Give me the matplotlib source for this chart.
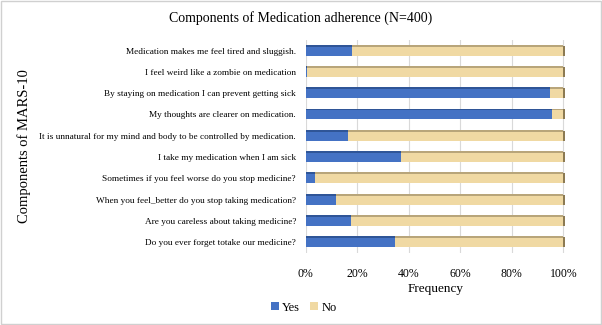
import matplotlib
matplotlib.use("Agg")
import matplotlib.pyplot as plt
from matplotlib.ticker import PercentFormatter
import numpy as np

categories = [
    "Do you ever forget totake our medicine?",
    "Are you careless about taking medicine?",
    "When you feel_better do you stop taking medication?",
    "Sometimes if you feel worse do you stop medicine?",
    "I take my medication when I am sick",
    "It is unnatural for my mind and body to be controlled by medication.",
    "My thoughts are clearer on medication.",
    "By staying on medication I can prevent getting sick",
    "I feel weird like a zombie on medication",
    "Medication makes me feel tired and sluggish.",
]
yes_pct = [34.6, 17.6, 11.8, 3.7, 36.8, 16.3, 95.8, 95.0, 0.6, 17.8]
no_pct = [100 - v for v in yes_pct]
xticks = [0, 20, 40, 60, 80, 100]

plt.rcParams['font.family'] = ['Liberation Serif', 'DejaVu Serif']

fig = plt.figure(figsize=(6.02, 3.25), dpi=100)
ax = fig.add_axes([0.508, 0.222, 0.432, 0.655])

y = np.arange(len(categories))
h = 0.47
yes = np.array(yes_pct)
no = np.array(no_pct)
ax.barh(y, yes, height=h, color="#4472C4", label="Yes", zorder=3)
ax.barh(y, no, left=yes, height=h, color="#F0D9A3", label="No", zorder=3)
# 3D-like top face and end caps
ax.barh(y + h / 2, yes, height=0.09, color="#2F5597", zorder=4)
ax.barh(y + h / 2, no, left=yes, height=0.09, color="#B8A57A", zorder=4)
ax.barh(y, 0.8, left=yes + no, height=h, color="#8C7A52", zorder=4)

ax.set_xlim(0, 101)
ax.set_ylim(-0.5, len(categories) - 0.5)
ax.set_xticks(xticks)
ax.xaxis.set_major_formatter(PercentFormatter(decimals=0))
ax.set_yticks(y)
ax.set_yticklabels(categories, fontsize=6.7)
ax.tick_params(axis='x', labelsize=8.5, length=0, pad=11)
ax.tick_params(axis='y', length=0, pad=7)
ax.grid(axis='x', color="#D9D9D9", linewidth=0.8, zorder=0)
for s in ax.spines.values():
    s.set_visible(False)

ax.set_xlabel("Frequency", fontsize=9.5, labelpad=2)
fig.text(0.04, 0.55, "Components of MARS-10", rotation=90, fontsize=10.5,
         ha='center', va='center')
fig.text(0.5, 0.945, "Components of Medication adherence (N=400)",
         fontsize=10, ha='center', va='center')

leg = fig.legend(loc='lower center', bbox_to_anchor=(0.505, 0.0), ncol=2,
                 frameon=False, fontsize=9, handlelength=0.6,
                 handleheight=0.6, handletextpad=0.3, columnspacing=0.8)

border = plt.Rectangle((0.002, 0.004), 0.996, 0.992, transform=fig.transFigure,
                       fill=False, edgecolor="#D0D0D0", linewidth=1)
fig.add_artist(border)

fig.savefig("out.png", dpi=100)
